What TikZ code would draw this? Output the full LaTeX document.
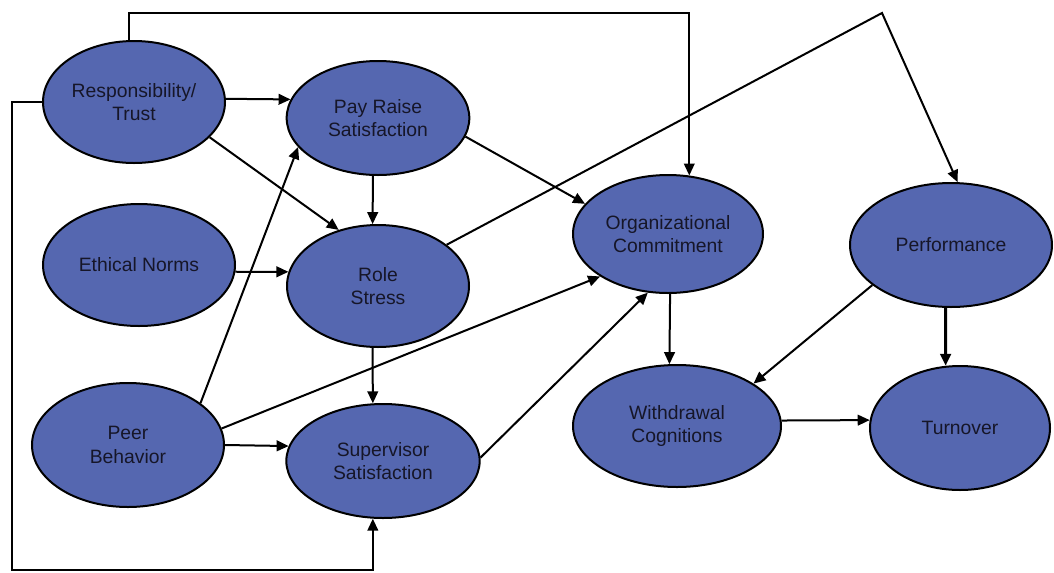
\documentclass[tikz,border=0pt]{standalone}
\usepackage{fontspec}
\setmainfont{Liberation Sans}
\usetikzlibrary{shapes.geometric,arrows.meta}

\definecolor{factorblue}{RGB}{85,103,176}
\definecolor{labelink}{RGB}{22,22,40}

\tikzset{every picture/.style={line width=1.5pt}}
\tikzset{
  factor/.style={ellipse, draw=black, fill=factorblue, text=labelink, align=center,
    inner sep=0pt, font=\fontsize{14.5}{17.5}\selectfont},
  link/.style={-{Triangle[length=9pt,width=8pt]}}
}

\begin{document}
\begin{tikzpicture}[x=0.75pt,y=0.75pt,yscale=-1,xscale=1]
\useasboundingbox (0,0) rectangle (1054,572);

%Ellipses
\node [factor, minimum width=136.5pt, minimum height=91.5pt] (resp) at (134,102) {Responsibility/\\Trust};
\node [factor, minimum width=137pt, minimum height=85.5pt] (pay) at (378,118) {Pay Raise\\Satisfaction};
\node [factor, minimum width=144pt, minimum height=91.5pt] (eth) at (139,265) {Ethical Norms};
\node [factor, minimum width=136.5pt, minimum height=91.5pt] (role) at (378,286) {Role\\Stress};
\node [factor, minimum width=144pt, minimum height=93pt] (peer) at (128,445) {Peer\\Behavior};
\node [factor, minimum width=145pt, minimum height=85.5pt] (sup) at (383,461) {Supervisor\\Satisfaction};
\node [factor, minimum width=142.5pt, minimum height=88.5pt] (org) at (668,234) {Organizational\\Commitment};
\node [factor, minimum width=151.5pt, minimum height=93pt] (perf) at (951,245) {Performance};
\node [factor, minimum width=156pt, minimum height=91.5pt] (wd) at (677,426) {Withdrawal\\Cognitions};
\node [factor, minimum width=135pt, minimum height=93pt] (turn) at (960,428) {Turnover};

%Bends
\coordinate (toprow) at (0,13);
\coordinate (corner) at (12,570);
\coordinate (peak) at (882,13);

%Straight Lines
\draw [link] (resp.95) -- (resp.95 |- toprow) -| (org.70);
\draw [link] (resp.west) -| (corner) -| (sup.260);
\draw [link] (resp.2) -- (pay.168);
\draw [link] (resp.-25) -- (role.125);
\draw [link] (pay.265) -- (role.95);
\draw [link] (pay.-12) -- (org.160);
\draw [link] (eth.-4) -- (role.171);
\draw [link] (role.31) -- (peak) -- (perf.84);
\draw [link] (role.265) -- (sup.100);
\draw [link] (peer.30) -- (pay.200);
\draw [link] (peer.10) -- (org.212);
\draw [link] (peer.east) -- (sup.171);
\draw [link] (sup.2) -- (org.251);
\draw [link] (org.272) -- (wd.97);
\draw [link] (perf.207) -- (wd.29);
\draw [link, line width=2.25pt] (perf.265) -- (turn.103);
\draw [link] (wd.3) -- (turn.175);

\end{tikzpicture}
\end{document}
